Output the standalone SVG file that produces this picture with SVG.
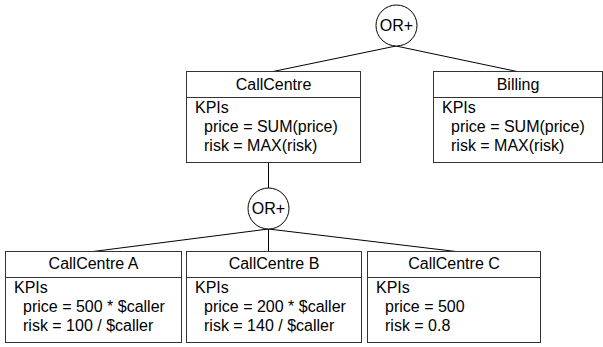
<svg xmlns="http://www.w3.org/2000/svg" width="603" height="347" viewBox="0 0 603 347">
<style>
text{font-family:"Liberation Sans",Arial,sans-serif;font-size:16px;fill:#000}
.t{text-anchor:middle}
.box{fill:#fff;stroke:#333;stroke-width:1}
.ln{stroke:#000;stroke-width:1;fill:none}
.or{fill:#fff;stroke:#000;stroke-width:1}
</style>
<rect width="603" height="347" fill="#fff"/>
<g id="connectors">
<line class="ln" x1="396" y1="46" x2="273" y2="71.5"/>
<line class="ln" x1="396" y1="46" x2="517" y2="71.5"/>
<line class="ln" x1="268.5" y1="162" x2="268.5" y2="188"/>
<line class="ln" x1="268.5" y1="229" x2="93" y2="251.5"/>
<line class="ln" x1="268.5" y1="229" x2="268.5" y2="251.5"/>
<line class="ln" x1="268.5" y1="229" x2="456" y2="251.5"/>
</g>
<g id="or-top">
<circle class="or" cx="396.5" cy="25.5" r="20.5"/>
<text class="t" x="396.5" y="31">OR+</text>
</g>
<g id="callcentre">
<rect class="box" x="186.5" y="71.5" width="174" height="91"/>
<line class="box" x1="186.5" y1="97.5" x2="360.5" y2="97.5"/>
<text class="t" x="273.5" y="90">CallCentre</text>
<text x="195" y="113">KPIs</text>
<text x="204" y="132">price = SUM(price)</text>
<text x="204" y="151">risk = MAX(risk)</text>
</g>
<g id="billing">
<rect class="box" x="433.5" y="71.5" width="169" height="91"/>
<line class="box" x1="433.5" y1="97.5" x2="602.5" y2="97.5"/>
<text class="t" x="518" y="90">Billing</text>
<text x="442" y="113">KPIs</text>
<text x="451" y="132">price = SUM(price)</text>
<text x="451" y="151">risk = MAX(risk)</text>
</g>
<g id="or-mid">
<circle class="or" cx="268.5" cy="208.5" r="20.5"/>
<text class="t" x="268.5" y="214">OR+</text>
</g>
<g id="callcentre-a">
<rect class="box" x="5.5" y="251.5" width="176" height="91"/>
<line class="box" x1="5.5" y1="277.5" x2="181.5" y2="277.5"/>
<text class="t" x="93.5" y="269">CallCentre A</text>
<text x="14" y="293">KPIs</text>
<text x="23" y="312">price = 500 * $caller</text>
<text x="23" y="331">risk = 100 / $caller</text>
</g>
<g id="callcentre-b">
<rect class="box" x="186.5" y="251.5" width="175" height="91"/>
<line class="box" x1="186.5" y1="277.5" x2="361.5" y2="277.5"/>
<text class="t" x="274" y="269">CallCentre B</text>
<text x="195" y="293">KPIs</text>
<text x="204" y="312">price = 200 * $caller</text>
<text x="204" y="331">risk = 140 / $caller</text>
</g>
<g id="callcentre-c">
<rect class="box" x="367.5" y="251.5" width="173" height="91"/>
<line class="box" x1="367.5" y1="277.5" x2="540.5" y2="277.5"/>
<text class="t" x="454" y="269">CallCentre C</text>
<text x="376" y="293">KPIs</text>
<text x="385" y="312">price = 500</text>
<text x="385" y="331">risk = 0.8</text>
</g>
</svg>
